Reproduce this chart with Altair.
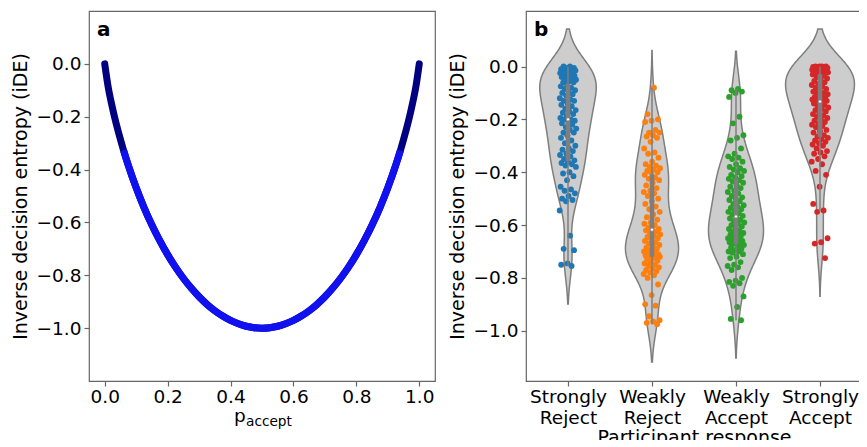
import altair as alt
import pandas as pd

# ---------------- data: panel a (curve) ----------------
P_ACCEPT = [0.0, 0.01, 0.025, 0.05, 0.06, 0.075, 0.1, 0.125, 0.15, 0.175, 0.2, 0.225,
            0.25, 0.275, 0.3, 0.325, 0.35, 0.375, 0.4, 0.425, 0.45, 0.475, 0.5,
            0.525, 0.55, 0.575, 0.6, 0.625, 0.65, 0.675, 0.7, 0.725, 0.75, 0.775,
            0.8, 0.825, 0.85, 0.875, 0.9, 0.925, 0.94, 0.95, 0.975, 0.99, 1.0]
IDE_CURVE = [0.0, -0.0808, -0.1687, -0.2864, -0.3274, -0.3843, -0.4690, -0.5436, -0.6098,
             -0.6690, -0.7219, -0.7692, -0.8113, -0.8485, -0.8813, -0.9097, -0.9341,
             -0.9544, -0.9710, -0.9837, -0.9928, -0.9982, -1.0,
             -0.9982, -0.9928, -0.9837, -0.9710, -0.9544, -0.9341, -0.9097, -0.8813,
             -0.8485, -0.8113, -0.7692, -0.7219, -0.6690, -0.6098, -0.5436, -0.4690,
             -0.3843, -0.3274, -0.2864, -0.1687, -0.0808, 0.0]

# ---------------- data: panel b (responses) ----------------
CATEGORIES = ["Strongly Reject", "Weakly Reject", "Weakly Accept", "Strongly Accept"]
STRONGLY_REJECT = [
    -0.0, -0.0, -0.005, -0.005, -0.01, -0.01, -0.01, -0.015, -0.015, -0.02, -0.02, -0.02,
    -0.025, -0.03, -0.03, -0.035, -0.04, -0.04, -0.045, -0.05, -0.05, -0.055, -0.06, -0.06,
    -0.07, -0.075, -0.08, -0.085, -0.09, -0.095, -0.10, -0.105, -0.11, -0.12, -0.125, -0.13,
    -0.13, -0.14, -0.145, -0.15, -0.16, -0.165, -0.17, -0.175, -0.18, -0.19, -0.195,
    -0.2, -0.2, -0.205, -0.21, -0.215, -0.22, -0.23, -0.235, -0.24, -0.25, -0.25, -0.26,
    -0.27, -0.28, -0.29, -0.30, -0.31, -0.315, -0.32, -0.33, -0.335, -0.34, -0.35, -0.355,
    -0.36, -0.365, -0.37, -0.375, -0.38, -0.40, -0.405, -0.415, -0.43, -0.455, -0.465,
    -0.47, -0.48, -0.49, -0.50, -0.505, -0.51, -0.545, -0.64, -0.69, -0.695, -0.745,
    -0.75, -0.755]
WEAKLY_REJECT = [
    -0.08, -0.18, -0.2, -0.205, -0.21, -0.24, -0.25, -0.25, -0.26, -0.265, -0.27, -0.285,
    -0.31, -0.325, -0.33, -0.345, -0.36, -0.37, -0.375, -0.38, -0.385, -0.39, -0.395,
    -0.40, -0.40,
    -0.41, -0.42, -0.425, -0.43, -0.44, -0.45, -0.46, -0.47, -0.475, -0.48, -0.49, -0.50,
    -0.51, -0.52, -0.53, -0.54, -0.55, -0.56, -0.57, -0.58, -0.59, -0.595, -0.60, -0.61,
    -0.615,
    -0.62, -0.62, -0.625, -0.63, -0.635, -0.64, -0.645, -0.65, -0.655, -0.66, -0.665,
    -0.67, -0.675, -0.68, -0.685, -0.69, -0.695, -0.70, -0.70, -0.705, -0.71, -0.71,
    -0.715, -0.715, -0.72,
    -0.72, -0.725, -0.73, -0.735, -0.74, -0.745, -0.75, -0.755, -0.76, -0.765, -0.77,
    -0.775, -0.78, -0.785, -0.79, -0.80, -0.825, -0.865, -0.90, -0.905, -0.945, -0.96,
    -0.965, -0.97, -0.975]
WEAKLY_ACCEPT = [
    -0.085, -0.09, -0.095, -0.10, -0.115, -0.19, -0.215, -0.26, -0.27, -0.28, -0.31,
    -0.33, -0.34, -0.345, -0.35, -0.36, -0.37, -0.38, -0.385, -0.39, -0.395, -0.40,
    -0.41, -0.415, -0.42,
    -0.425, -0.43, -0.435, -0.44, -0.45, -0.455, -0.46, -0.47, -0.475, -0.48, -0.49,
    -0.495, -0.50, -0.505, -0.51, -0.52, -0.525, -0.53, -0.535, -0.54, -0.545, -0.55,
    -0.555, -0.56, -0.565,
    -0.57, -0.575, -0.58, -0.585, -0.59, -0.595, -0.60, -0.605, -0.61, -0.615, -0.62,
    -0.625, -0.63, -0.63, -0.635, -0.64, -0.645, -0.65, -0.65, -0.655, -0.66, -0.66,
    -0.665, -0.67, -0.67,
    -0.675, -0.68, -0.685, -0.69, -0.695, -0.70, -0.70, -0.705, -0.71, -0.72, -0.725,
    -0.74, -0.75, -0.755, -0.76, -0.77, -0.80, -0.81, -0.815, -0.82, -0.83, -0.87,
    -0.91, -0.955, -0.96]
STRONGLY_ACCEPT = [
    0.0, 0.0, 0.0, -0.0, -0.002, -0.003, -0.005, -0.005, -0.007, -0.008, -0.01, -0.01,
    -0.012, -0.013, -0.015, -0.015, -0.017, -0.018, -0.02, -0.02, -0.022, -0.023, -0.024,
    -0.025, -0.025,
    -0.03, -0.035, -0.04, -0.045, -0.05, -0.055, -0.06, -0.065, -0.07, -0.075, -0.08,
    -0.085, -0.09, -0.095, -0.10, -0.10, -0.105, -0.11, -0.115, -0.12, -0.12, -0.125,
    -0.125, -0.13, -0.13,
    -0.135, -0.14, -0.145, -0.15, -0.155, -0.16, -0.165, -0.17, -0.175, -0.18, -0.185,
    -0.19, -0.195, -0.20, -0.205, -0.21, -0.215, -0.22, -0.225, -0.23, -0.24, -0.245,
    -0.25, -0.26, -0.265,
    -0.27, -0.275, -0.28, -0.285, -0.29, -0.295, -0.30, -0.31, -0.32, -0.325, -0.33,
    -0.34, -0.35, -0.36, -0.37, -0.395, -0.41, -0.455, -0.52, -0.545, -0.55, -0.65,
    -0.665, -0.67, -0.725]
POINT_COLORS = ["#1f77b4", "#ff7f0e", "#2ca02c", "#d62728"]

# ---------------- style ----------------
FONT = "DejaVu Sans"
GRAY = "#7e7e7e"
FRAME = "#666666"
NAVY = "#000080"
BLUE = "#1010f0"
H = 370

# ---------------- panel a ----------------
curve_df = pd.DataFrame({"p": P_ACCEPT, "ide": IDE_CURVE})
xa = alt.Scale(domain=[-0.05, 1.05], nice=False, zero=False)
ya = alt.Scale(domain=[-1.2, 0.2], nice=False, zero=False)
ax_xa = alt.Axis(values=[0, 0.2, 0.4, 0.6, 0.8, 1.0], format=".1f", title=None,
                 labelPadding=1)
ax_ya = alt.Axis(values=[0, -0.2, -0.4, -0.6, -0.8, -1.0], format=".1f",
                 title="Inverse decision entropy (iDE)")

navy_line = alt.Chart(curve_df).mark_line(
    color=NAVY, strokeWidth=7, strokeCap="round", interpolate="monotone"
).encode(
    x=alt.X("p:Q", scale=xa, axis=ax_xa),
    y=alt.Y("ide:Q", scale=ya, axis=ax_ya),
)
blue_line = alt.Chart(curve_df).transform_filter(
    "datum.p >= 0.06 && datum.p <= 0.94"
).mark_line(
    color=BLUE, strokeWidth=7, strokeCap="butt", interpolate="monotone"
).encode(
    x=alt.X("p:Q", scale=xa, axis=ax_xa),
    y=alt.Y("ide:Q", scale=ya, axis=ax_ya),
)
one = pd.DataFrame({"t": [0]})
letter_a = alt.Chart(one).mark_text(
    text="a", font=FONT, fontSize=20, fontWeight="bold", align="left",
    baseline="alphabetic", color="black"
).encode(x=alt.value(8), y=alt.value(25))
p_txt = alt.Chart(one).mark_text(
    text="p", font=FONT, fontSize=18.5, align="left", baseline="alphabetic", color="black"
).encode(x=alt.value(145), y=alt.value(411))
acc_txt = alt.Chart(one).mark_text(
    text="accept", font=FONT, fontSize=13.7, align="left", baseline="alphabetic",
    color="black"
).encode(x=alt.value(157), y=alt.value(415))

panel_a = alt.layer(navy_line, blue_line, letter_a, p_txt, acc_txt).properties(
    width=346, height=H)

# ---------------- panel b ----------------
rows = []
for i, (c, vals) in enumerate(zip(CATEGORIES, [STRONGLY_REJECT, WEAKLY_REJECT,
                                               WEAKLY_ACCEPT, STRONGLY_ACCEPT])):
    for v in vals:
        rows.append({"cat": c, "idx": i, "ide": v})
df = pd.DataFrame(rows)

xb = alt.Scale(domain=[-0.5, 3.5], nice=False, zero=False)
yb = alt.Scale(domain=[-1.19, 0.21], nice=False, zero=False)
label_expr = " : ".join(
    f"datum.value == {i} ? {c.split(' ')!r}" for i, c in enumerate(CATEGORIES[:-1])
) + f" : {CATEGORIES[-1].split(' ')!r}"
ax_xb = alt.Axis(values=[0, 1, 2, 3], labelExpr=label_expr, title="Participant response",
                 labelLineHeight=21, labelPadding=1, titleY=47, titleBaseline="top")
ax_yb = alt.Axis(values=[0, -0.2, -0.4, -0.6, -0.8, -1.0], format=".1f",
                 title="Inverse decision entropy (iDE)")


def xenc(f):
    return alt.X(f, type="quantitative", scale=xb, axis=ax_xb)


def yenc(f):
    return alt.Y(f, type="quantitative", scale=yb, axis=ax_yb)


base = alt.Chart(df)
BW = 0.072
violin = base.transform_joinaggregate(
    lo="min(ide)", hi="max(ide)", groupby=["cat"]
).transform_density(
    "ide", as_=["val", "density"], groupby=["cat", "idx", "lo", "hi"],
    bandwidth=BW, extent=[-1.25, 0.25], steps=500
).transform_filter(
    f"datum.val >= datum.lo - {2*BW} && datum.val <= datum.hi + {2*BW}"
).transform_joinaggregate(
    maxd="max(density)"
).transform_calculate(
    xl="datum.idx - 0.41 * datum.density / datum.maxd",
    xr="datum.idx + 0.41 * datum.density / datum.maxd",
).mark_area(
    orient="horizontal", fill="#cdcdcd", stroke=GRAY, strokeWidth=1.5
).encode(
    y=yenc("val"), x=xenc("xl"), x2="xr:Q", detail="cat:N"
)

points = base.transform_window(
    rn="row_number()", groupby=["cat"]
).transform_calculate(
    jx="datum.idx + 0.2 * (((datum.rn * 0.6180339887) % 1) - 0.5)"
).mark_circle(size=34, opacity=1).encode(
    x=xenc("jx"), y=yenc("ide"),
    color=alt.Color("cat:N", scale=alt.Scale(domain=CATEGORIES, range=POINT_COLORS),
                    legend=None),
)

stats = base.transform_joinaggregate(
    q1="q1(ide)", q3="q3(ide)", med="median(ide)", groupby=["cat"]
).transform_filter(
    "datum.ide >= datum.q1 - 1.5 * (datum.q3 - datum.q1) && "
    "datum.ide <= datum.q3 + 1.5 * (datum.q3 - datum.q1)"
).transform_aggregate(
    wlo="min(ide)", whi="max(ide)", bq1="min(q1)", bq3="min(q3)", bmed="min(med)",
    groupby=["cat", "idx"]
)
whisker = stats.mark_rule(color=GRAY, strokeWidth=1.5).encode(
    x=xenc("idx"), y=yenc("wlo"), y2="whi:Q")
box = stats.mark_rule(color=GRAY, strokeWidth=4.5).encode(
    x=xenc("idx"), y=yenc("bq1"), y2="bq3:Q")
median = stats.mark_point(filled=True, fill="white", stroke=GRAY, strokeWidth=0.6,
                          size=10, opacity=1).encode(x=xenc("idx"), y=yenc("bmed"))
letter_b = alt.Chart(one).mark_text(
    text="b", font=FONT, fontSize=20, fontWeight="bold", align="left",
    baseline="alphabetic", color="black"
).encode(x=alt.value(8), y=alt.value(25))

panel_b = alt.layer(violin, points, whisker, box, median, letter_b).properties(
    width=336, height=H)

chart = alt.hconcat(panel_a, panel_b, spacing=11).properties(
    padding={"left": 2, "top": 2, "right": -4, "bottom": -8}
).configure_view(
    stroke=FRAME, strokeWidth=1.2
).configure_axis(
    labelFont=FONT, titleFont=FONT, labelFontSize=18.5, titleFontSize=19,
    labelColor="black", titleColor="black", titleFontWeight="normal",
    domain=False, grid=False, ticks=True, tickColor=FRAME, tickWidth=1.2, tickSize=5,
    labelPadding=3, titlePadding=6, labelFlush=False, labelOverlap=False,
)

chart.save("out.html", embed_options={"renderer": "svg", "actions": False})
